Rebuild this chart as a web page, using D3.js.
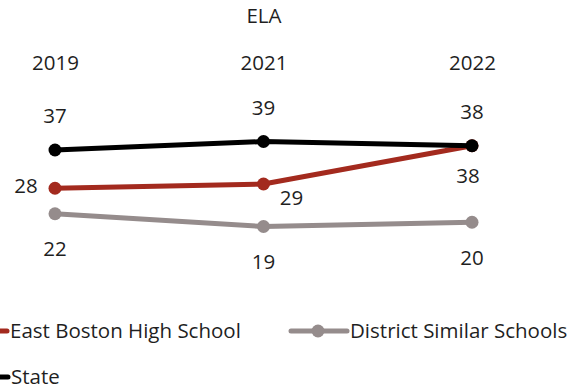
<!DOCTYPE html>
<html>
<head>
<meta charset="utf-8">
<script src="https://cdn.jsdelivr.net/npm/d3@7"></script>
<style>
  html, body { margin: 0; padding: 0; background: #fff; }
  svg { display: block; }
  text { font-family: "Open Sans", Lato, sans-serif; fill: #1f1f1f; }
</style>
</head>
<body>
<svg id="chart" width="587" height="389"></svg>
<script>
// Data
const title = "ELA";
const years = ["2019", "2021", "2022"];
const seriesNames = ["East Boston High School", "District Similar Schools", "State"];
const eastBoston = [28, 29, 38];
const districtSimilar = [22, 19, 20];
const state = [37, 39, 38];

const W = 587, H = 389;
const fs = 20.5;
const svg = d3.select("#chart");

// Scales
const x = d3.scalePoint().domain(years).range([55, 472]);
const y = d3.scaleLinear().domain([0, 50]).range([307.25, 94.75]);

// Series styling and value label placement (dx, dy from the point)
const series = [
  { name: seriesNames[1], values: districtSimilar, color: "#958c8c",
    label: () => [0, 35] },
  { name: seriesNames[0], values: eastBoston, color: "#a32a1e",
    label: i => [[-29, -3], [28, 14], [-4, 30]][i] },
  { name: seriesNames[2], values: state, color: "#000000",
    label: () => [0, -34] }
];

// Title
svg.append("text")
  .attr("x", 264).attr("y", 16).attr("dy", "0.357em")
  .attr("text-anchor", "middle").style("font-size", fs + "px")
  .text(title);

// Category labels across the top
const xAxis = d3.axisTop(x).tickSize(0).tickPadding(0);
const gx = svg.append("g").attr("transform", "translate(0,63)").call(xAxis);
gx.select(".domain").remove();
gx.selectAll("text")
  .attr("y", 0).attr("dy", "0.357em")
  .style("font-size", fs + "px")
  .style("font-family", "\"Open Sans\", Lato, sans-serif")
  .attr("fill", "#1f1f1f");

const line = d3.line().x((d, i) => x(years[i])).y(d => y(d));

series.forEach(s => {
  const g = svg.append("g");
  g.append("path")
    .datum(s.values)
    .attr("d", line)
    .attr("fill", "none")
    .attr("stroke", s.color)
    .attr("stroke-width", 5)
    .attr("stroke-linejoin", "round")
    .attr("stroke-linecap", "round");
  g.selectAll("circle")
    .data(s.values)
    .join("circle")
    .attr("cx", (d, i) => x(years[i]))
    .attr("cy", d => y(d))
    .attr("r", 6.5)
    .attr("fill", s.color);
});

// Value labels
series.forEach(s => {
  svg.append("g").selectAll("text")
    .data(s.values)
    .join("text")
    .attr("x", (d, i) => x(years[i]) + s.label(i)[0])
    .attr("y", (d, i) => y(d) + s.label(i)[1])
    .attr("dy", "0.357em")
    .attr("text-anchor", "middle")
    .style("font-size", fs + "px")
    .text(d => d);
});

// Legend
const legendItems = [
  { name: seriesNames[0], color: "#a32a1e", lineEnd: 7, y: 331 },
  { name: seriesNames[1], color: "#958c8c", lineEnd: 347, y: 331 },
  { name: seriesNames[2], color: "#000000", lineEnd: 8, y: 377 }
];
const lg = svg.append("g");
legendItems.forEach(it => {
  const x0 = it.lineEnd - 56;
  lg.append("line")
    .attr("x1", x0).attr("x2", it.lineEnd)
    .attr("y1", it.y).attr("y2", it.y)
    .attr("stroke", it.color).attr("stroke-width", 5)
    .attr("stroke-linecap", "round");
  lg.append("circle")
    .attr("cx", x0 + 27).attr("cy", it.y).attr("r", 6.5)
    .attr("fill", it.color);
  lg.append("text")
    .attr("x", it.lineEnd + 3).attr("y", it.y).attr("dy", "0.357em")
    .style("font-size", fs + "px")
    .text(it.name);
});
</script>
</body>
</html>
